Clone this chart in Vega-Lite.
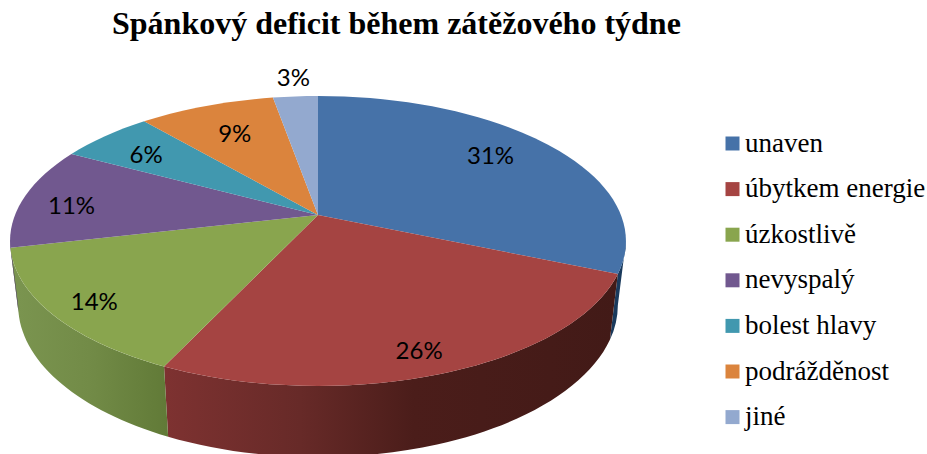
{
 "$schema":"https://vega.github.io/schema/vega-lite/v6.json",
 "width":927,"height":404,
 "autosize":{"type":"none"},
 "padding":{"top":50,"left":0,"right":0,"bottom":0},
 "background":"white",
 "config":{"view":{"stroke":null}},
 "title":{"text":"Spánkový deficit během zátěžového týdne","anchor":"start","frame":"group","dx":112,"offset":9,"font":"Liberation Serif","fontSize":32,"fontWeight":"bold","color":"#000000"},
 "data":{"values":[
  {"label":"unaven","value":31.4,"order":1},
  {"label":"úbytkem energie","value":25.6,"order":2},
  {"label":"úzkostlivě","value":14.4,"order":3},
  {"label":"nevyspalý","value":11.4,"order":4},
  {"label":"bolest hlavy","value":5.9,"order":5},
  {"label":"podrážděnost","value":8.5,"order":6},
  {"label":"jiné","value":2.8,"order":7}
 ]},
 "transform":[
  {"stack":"value","sort":[{"field":"order","order":"ascending"}],"as":["v0","v1"]},
  {"calculate":"datum.v0/100*2*PI","as":"t0"},
  {"calculate":"datum.v1/100*2*PI","as":"t1"},
  {"calculate":"(datum.t0+datum.t1)/2","as":"tm"},
  {"calculate":"303*sin(datum.t0)/(1+0.179*cos(datum.t0))","as":"x0"},
  {"calculate":"-140.3*cos(datum.t0)/(1+0.179*cos(datum.t0))","as":"y0"},
  {"calculate":"303*sin(datum.t1)/(1+0.179*cos(datum.t1))","as":"x1"},
  {"calculate":"-140.3*cos(datum.t1)/(1+0.179*cos(datum.t1))","as":"y1"},
  {"calculate":"'M0,0L'+datum.x0+','+datum.y0+'A308,145 0 0 1 '+datum.x1+','+datum.y1+'Z'","as":"topPath"},
  {"calculate":"max(datum.t0,1.7506)","as":"w0"},
  {"calculate":"min(datum.t1,4.5326)","as":"w1"},
  {"calculate":"'M'+(303*sin(datum.w0)/(1+0.179*cos(datum.w0)))+','+(-140.3*cos(datum.w0)/(1+0.179*cos(datum.w0)))+'A308,145 0 0 1 '+(303*sin(datum.w1)/(1+0.179*cos(datum.w1)))+','+(-140.3*cos(datum.w1)/(1+0.179*cos(datum.w1)))+'L'+(295*sin(datum.w1)/(1+0.179*cos(datum.w1)))+','+(63-147*cos(datum.w1)/(1+0.179*cos(datum.w1)))+'A300,152 0 0 0 '+(295*sin(datum.w0)/(1+0.179*cos(datum.w0)))+','+(63-147*cos(datum.w0)/(1+0.179*cos(datum.w0)))+'Z'","as":"wallPath"},
  {"calculate":"{'unaven':[0.75,0.82],'úbytkem energie':[0.78,0.873],'úzkostlivě':[0.842,0.89],'nevyspalý':[0.84,0.45],'bolest hlavy':[0.808,0.75],'podrážděnost':[0.745,0.735],'jiné':[1.09,1.145]}[datum.label]","as":"lr"},
  {"calculate":"datum.lr[0]*303*sin(datum.tm)/(1+0.179*cos(datum.tm))","as":"lx"},
  {"calculate":"-datum.lr[1]*140.3*cos(datum.tm)/(1+0.179*cos(datum.tm))","as":"ly"},
  {"calculate":"round(datum.value)+'%'","as":"pct"}
 ],
 "layer":[
  {"transform":[{"filter":"datum.label==='unaven'"}],
   "mark":{"type":"point","filled":true,"opacity":1,"fill":"#1A3A5C"},
   "encoding":{"x":{"datum":0,"type":"quantitative","scale":{"domain":[-318,609],"nice":false,"zero":false},"axis":null},"y":{"datum":0,"type":"quantitative","scale":{"domain":[239,-165],"nice":false,"zero":false},"axis":null},"size":{"value":4},"shape":{"field":"wallPath","type":"nominal","scale":null,"legend":null}}},
  {"transform":[{"filter":"datum.label==='úbytkem energie'"}],
   "mark":{"type":"point","filled":true,"opacity":1,"fill":{"gradient":"linear","x1":0,"x2":1,"y1":0,"y2":0,"stops":[{"offset":0,"color":"#7E3231"},{"offset":0.3,"color":"#672A28"},{"offset":0.55,"color":"#4B1D1A"},{"offset":1,"color":"#421A17"}]}},
   "encoding":{"x":{"datum":0,"type":"quantitative","axis":null},"y":{"datum":0,"type":"quantitative","axis":null},"size":{"value":4},"shape":{"field":"wallPath","type":"nominal","scale":null,"legend":null}}},
  {"transform":[{"filter":"datum.label==='úzkostlivě'"}],
   "mark":{"type":"point","filled":true,"opacity":1,"fill":{"gradient":"linear","x1":0,"x2":1,"y1":0,"y2":0,"stops":[{"offset":0,"color":"#7B9550"},{"offset":0.5,"color":"#728B47"},{"offset":1,"color":"#617A37"}]}},
   "encoding":{"x":{"datum":0,"type":"quantitative","axis":null},"y":{"datum":0,"type":"quantitative","axis":null},"size":{"value":4},"shape":{"field":"wallPath","type":"nominal","scale":null,"legend":null}}},
  {"transform":[{"filter":"datum.label==='nevyspalý'"}],
   "mark":{"type":"point","filled":true,"opacity":1,"fill":"#4F3D66"},
   "encoding":{"x":{"datum":0,"type":"quantitative","axis":null},"y":{"datum":0,"type":"quantitative","axis":null},"size":{"value":4},"shape":{"field":"wallPath","type":"nominal","scale":null,"legend":null}}},
  {"mark":{"type":"point","filled":true,"opacity":1},
   "encoding":{
    "x":{"datum":0,"type":"quantitative","axis":null},
    "y":{"datum":0,"type":"quantitative","axis":null},
    "size":{"value":4},
    "shape":{"field":"topPath","type":"nominal","scale":null,"legend":null},
    "color":{"field":"label","type":"nominal",
     "scale":{"domain":["unaven","úbytkem energie","úzkostlivě","nevyspalý","bolest hlavy","podrážděnost","jiné"],"range":["#4672A8","#A54442","#89A54E","#71588F","#4198AF","#DB843D","#93A9CF"]},
     "legend":{"orient":"none","legendX":719,"legendY":80,"title":null,"symbolType":"square","symbolSize":196,"symbolOpacity":1,"symbolStrokeWidth":0,"labelFont":"Liberation Serif","labelFontSize":27,"labelColor":"#000000","labelOffset":-1,"rowPadding":17.6,"padding":0,"labelLimit":220}}
   }},
  {"mark":{"type":"text","font":"Lato","fontSize":24,"color":"#000000","align":"center","baseline":"middle"},
   "encoding":{
    "x":{"field":"lx","type":"quantitative","axis":null},
    "y":{"field":"ly","type":"quantitative","axis":null},
    "text":{"field":"pct"}
   }}
 ]
}
